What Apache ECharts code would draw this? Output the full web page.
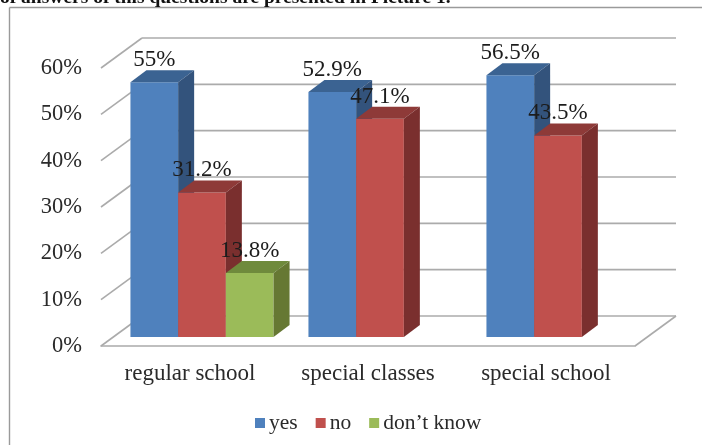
<!DOCTYPE html>
<html><head><meta charset="utf-8">
<style>html,body{margin:0;padding:0;background:#fff}#c{width:702px;height:445px}</style>
<script src="https://cdn.jsdelivr.net/npm/echarts@6/dist/echarts.min.js"></script>
</head><body><div id="c"></div>
<script>
const categories = ['regular school', 'special classes', 'special school'];
const ticks = [0, 10, 20, 30, 40, 50, 60];
const yes = [55, 52.9, 56.5];
const no = [31.2, 47.1, 43.5];
const dontKnow = [13.8, null, null];
const yesLabels = ['55%', '52.9%', '56.5%'];
const noLabels = ['31.2%', '47.1%', '43.5%'];
const dontKnowLabels = ['13.8%', '', ''];

const FONT = '"Liberation Serif", serif';
const WALL_DX = 41, WALL_DY = -30;      // depth of the chart box
const FLOOR_DX = 12, FLOOR_DY = -9;     // bars stand this far into the box
const BAR_DX = 16, BAR_DY = -12;        // depth of each bar
const BAR_FRAC = 0.268;

function wallItem(params, api) {
  const v = api.value(0);
  const p0 = api.coord([0, v]);
  const size = api.size([1, 0])[0];
  const x0 = p0[0] - size / 2, x1 = x0 + size * 3, y = p0[1];
  const style = { stroke: '#ababab', lineWidth: 1.6, fill: null };
  const kids = [
    { type: 'line', shape: { x1: x0, y1: y, x2: x0 + WALL_DX, y2: y + WALL_DY }, style },
    { type: 'line', shape: { x1: x0 + WALL_DX, y1: y + WALL_DY, x2: x1 + WALL_DX, y2: y + WALL_DY }, style }
  ];
  if (v === 0) kids.push({ type: 'line', shape: { x1: x1, y1: y, x2: x1 + WALL_DX, y2: y + WALL_DY }, style });
  return { type: 'group', children: kids };
}

function barRenderer(slot, labels, colors) {
  return function (params, api) {
    const c = api.value(0), v = api.value(1);
    if (v == null || isNaN(v)) return null;
    const top = api.coord([c, v]), base = api.coord([c, 0]);
    const w = api.size([1, 0])[0] * BAR_FRAC;
    const x0 = top[0] + FLOOR_DX + (slot - 1.5) * w, x1 = x0 + w;
    const yT = top[1] + FLOOR_DY, yB = base[1] + FLOOR_DY;
    return {
      type: 'group',
      children: [
        { type: 'rect', shape: { x: x0, y: yT, width: w, height: yB - yT }, style: { fill: colors[0] } },
        { type: 'polygon', shape: { points: [[x0, yT], [x1, yT], [x1 + BAR_DX, yT + BAR_DY], [x0 + BAR_DX, yT + BAR_DY]] }, style: { fill: colors[1] } },
        { type: 'polygon', shape: { points: [[x1, yT], [x1 + BAR_DX, yT + BAR_DY], [x1 + BAR_DX, yB + BAR_DY], [x1, yB]] }, style: { fill: colors[2] } },
        { type: 'text', z2: 10, style: { x: x0 + w / 2, y: yT - 22, text: labels[c], fill: '#1c1c1c', font: '23px ' + FONT, align: 'center', verticalAlign: 'middle' } }
      ]
    };
  };
}

function barSeries(name, values, slot, labels, colors) {
  return {
    type: 'custom', name, coordinateSystem: 'cartesian2d', z: 3 + slot,
    itemStyle: { color: colors[0] },
    encode: { x: 0, y: 1 },
    data: values.map((v, i) => [i, v]),
    renderItem: barRenderer(slot, labels, colors)
  };
}

const chart = echarts.init(document.getElementById('c'), null, { renderer: 'canvas' });
chart.setOption({
  animation: false,
  backgroundColor: '#fff',
  grid: { left: 101, right: 67, top: 68, height: 278 },
  xAxis: {
    type: 'category', data: categories,
    axisLine: { show: true, lineStyle: { color: '#ababab', width: 1.6 } },
    axisTick: { show: false }, splitLine: { show: false },
    axisLabel: { color: '#2a2a2a', fontFamily: FONT, fontSize: 23, margin: 16 }
  },
  yAxis: {
    type: 'value', min: 0, max: 60, interval: 10,
    axisLine: { show: false }, axisTick: { show: false }, splitLine: { show: false },
    axisLabel: { color: '#2a2a2a', fontFamily: FONT, fontSize: 22.5, margin: 19, formatter: '{value}%' }
  },
  legend: {
    data: ['yes', 'no', 'don’t know'].map(n => ({ name: n, icon: 'rect' })),
    left: 250, top: 407, itemWidth: 10, itemHeight: 10, itemGap: 18,
    textStyle: { color: '#2a2a2a', fontFamily: FONT, fontSize: 21.5, padding: [0, 0, 0, -1] }
  },
  graphic: [
    { type: 'line', silent: true, shape: { x1: 9.5, y1: 7.5, x2: 702, y2: 7.5 }, style: { stroke: '#9a9a9a', lineWidth: 1.4 } },
    { type: 'line', silent: true, shape: { x1: 9.5, y1: 7.5, x2: 9.5, y2: 445 }, style: { stroke: '#9a9a9a', lineWidth: 1.4 } },
    { type: 'text', silent: true, x: 0, y: -12, style: { text: 'of answers of this questions are presented in Picture 1.', fill: '#111', font: 'bold 19.5px ' + FONT } }
  ],
  series: [
    { type: 'custom', name: 'wall', silent: true, z: 1, coordinateSystem: 'cartesian2d', encode: { y: 0 }, data: ticks.map(t => [t]), renderItem: wallItem },
    barSeries('yes', yes, 0, yesLabels, ['#4F81BD', '#3B6392', '#33537C']),
    barSeries('no', no, 1, noLabels, ['#C0504D', '#8E3A38', '#7A2F2E']),
    barSeries('don’t know', dontKnow, 2, dontKnowLabels, ['#9BBB59', '#6F8A3C', '#667833'])
  ]
});
</script></body></html>
